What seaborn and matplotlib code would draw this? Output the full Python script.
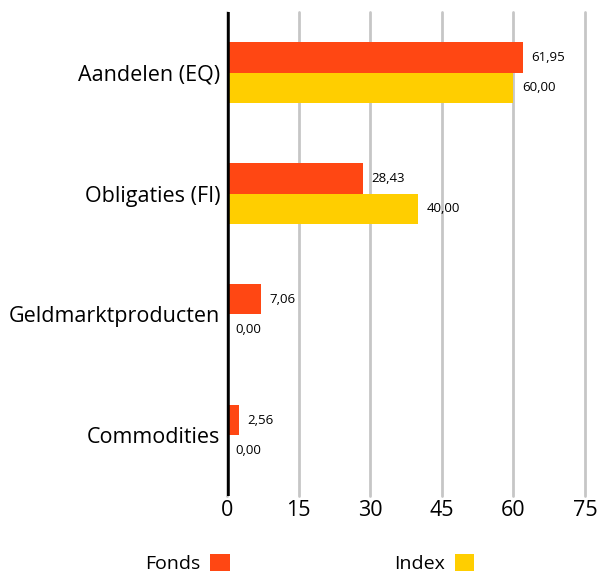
import pandas as pd
import matplotlib
matplotlib.use("Agg")
import matplotlib.pyplot as plt
import seaborn as sns

categories = ["Aandelen (EQ)", "Obligaties (FI)", "Geldmarktproducten", "Commodities"]
fonds = [61.95, 28.43, 7.06, 2.56]
index = [60.00, 40.00, 0.00, 0.00]
series = ["Fonds", "Index"]
colors = {"Fonds": "#FF4713", "Index": "#FFCE00"}
x_ticks = [0, 15, 30, 45, 60, 75]

df = pd.DataFrame({
    "categorie": categories * 2,
    "reeks": ["Fonds"] * len(categories) + ["Index"] * len(categories),
    "waarde": fonds + index,
})

sns.set_style("white")
plt.rcParams["font.family"] = ["Open Sans", "DejaVu Sans"]
plt.rcParams["text.color"] = "black"
plt.rcParams["xtick.color"] = "black"
plt.rcParams["ytick.color"] = "black"

fig = plt.figure(figsize=(5.98, 5.76), dpi=100)
ax = fig.add_axes([0.3796, 0.139, 0.5987, 0.840])

sns.barplot(data=df, y="categorie", x="waarde", hue="reeks", order=categories,
            hue_order=series, palette=colors, width=0.5, orient="h",
            saturation=1, linewidth=0, ax=ax, legend=True)

ax.set_xlim(0, 75)
ax.set_xticks(x_ticks)
ax.set_xticklabels([str(t) for t in x_ticks], fontsize=15.5)
ax.tick_params(axis="y", labelsize=15.5, length=0, pad=5, labelcolor="black")
ax.tick_params(axis="x", length=0, pad=3, labelcolor="black")
ax.set_xlabel("")
ax.set_ylabel("")
for s in ax.spines.values():
    s.set_visible(False)

ax.grid(axis="x", color="#c6c6c6", linewidth=2)
for gl in ax.get_xgridlines():
    gl.set_clip_on(False)
ax.set_axisbelow(True)
ax.axvline(0, color="black", linewidth=4, zorder=5)

for cont in ax.containers:
    labels = [f"{v:.2f}".replace(".", ",") for v in cont.datavalues]
    ax.bar_label(cont, labels=labels, padding=6, fontsize=9.5, color="black")

handles, lbls = ax.get_legend_handles_labels()
ax.get_legend().remove()
fig.legend(handles, lbls, loc="center", bbox_to_anchor=(0.518, 0.022),
           ncol=2, frameon=False, markerfirst=False, fontsize=14,
           handlelength=1.0, handleheight=1.0, columnspacing=8.45, handletextpad=0.5)

fig.savefig("out.png", dpi=100)
